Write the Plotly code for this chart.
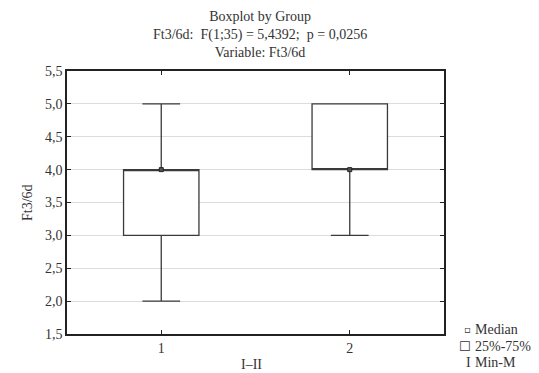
import plotly.graph_objects as go

groups = ["1", "2"]
q1 = [3.0, 4.0]
median = [4.0, 4.0]
q3 = [4.0, 5.0]
vmin = [2.0, 3.0]
vmax = [5.0, 5.0]
y_ticks = [1.5, 2.0, 2.5, 3.0, 3.5, 4.0, 4.5, 5.0, 5.5]
x_pos = [1, 2]

FONT = "Liberation Serif, Times New Roman, serif"
LINE = "#3a3a3a"

fig = go.Figure()
fig.add_trace(go.Box(
    x=x_pos, q1=q1, median=median, q3=q3, lowerfence=vmin, upperfence=vmax,
    width=0.4, whiskerwidth=0.5, fillcolor="white",
    line=dict(color=LINE, width=1.3), boxpoints=False, showlegend=False,
    hoverinfo="skip",
))
fig.add_trace(go.Scatter(
    x=x_pos, y=median, mode="markers",
    marker=dict(symbol="square", size=4, color="#555", line=dict(color="#222", width=1)),
    showlegend=False, hoverinfo="skip",
))

axis_common = dict(
    showline=True, linecolor="#222", linewidth=1.5, mirror="ticks",
    ticks="inside", ticklen=4, tickcolor="#222", tickwidth=1,
    tickfont=dict(family=FONT, size=14, color="#333"), zeroline=False,
)
fig.update_xaxes(range=[0.5, 2.5], tickvals=x_pos, ticktext=groups,
                 showgrid=False, **axis_common)
fig.update_yaxes(range=[1.5, 5.5], tickvals=y_ticks, tickformat=".1f",
                 showgrid=True, gridcolor="#dcdcdc", gridwidth=1, **axis_common)

tfont = dict(family=FONT, size=14, color="#333")
ann = [
    dict(text="Boxplot by Group<br>Ft3/6d:  F(1;35) = 5,4392;  p = 0,0256<br>Variable: Ft3/6d",
         x=0.512, y=1, xref="paper", yref="paper", yanchor="bottom", yshift=9,
         showarrow=False, font=tfont),
    dict(text="Ft3/6d", x=-0.13, y=0.5, xref="paper", yref="paper", textangle=-90,
         showarrow=False, font=tfont),
    dict(text="I–II", x=0.49, y=0, xref="paper", yref="paper", yanchor="middle", yshift=-30,
         showarrow=False, font=tfont),
]
leg_y = [329, 346, 362]
leg_txt = ["Median", "25%-75%", "Min-M"]
leg_icon = ["▫", "☐", "I"]
leg_icon_font = ["DejaVu Sans", "DejaVu Sans", FONT]
leg_icon_size = [10, 13, 14]
for yy, t, ic, f, s in zip(leg_y, leg_txt, leg_icon, leg_icon_font, leg_icon_size):
    yp = (334 - yy) / 263
    ann.append(dict(text=t, x=(474 - 67) / 377, y=yp, xref="paper", yref="paper",
                    xanchor="left", yanchor="middle", showarrow=False, font=tfont,
                    borderpad=0))
    ann.append(dict(text=ic, x=(472 - 67) / 377, y=yp, xref="paper", yref="paper",
                    xanchor="right", yanchor="middle", showarrow=False, borderpad=0,
                    font=dict(family=f, size=s, color="#333")))

fig.update_layout(
    width=539, height=373, margin=dict(l=67, r=95, t=71, b=39),
    paper_bgcolor="white", plot_bgcolor="white", separators=",.",
    annotations=ann, showlegend=False,
)
fig.write_html("out.html")
